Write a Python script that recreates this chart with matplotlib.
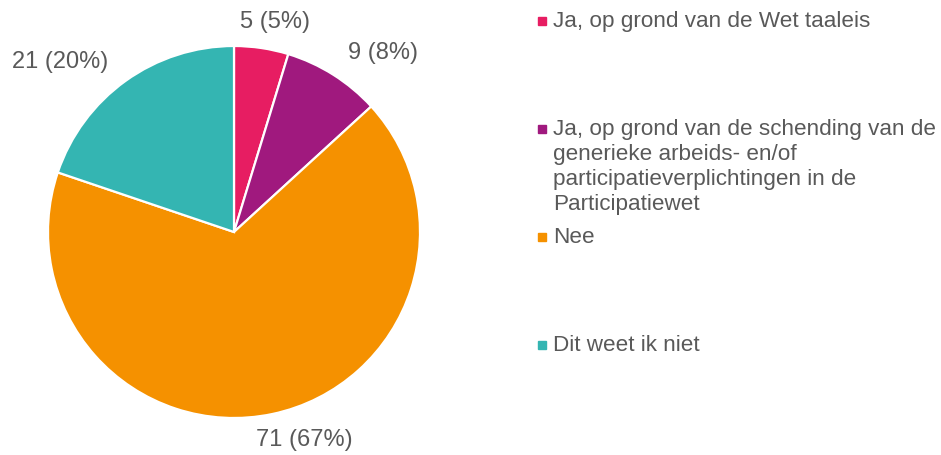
import matplotlib.pyplot as plt
from matplotlib.patches import Rectangle

plt.rcParams["font.family"] = ["Liberation Sans", "DejaVu Sans"]

categories = [
    "Ja, op grond van de Wet taaleis",
    "Ja, op grond van de schending van de\ngenerieke arbeids- en/of\nparticipatieverplichtingen in de\nParticipatiewet",
    "Nee",
    "Dit weet ik niet",
]
counts = [5, 9, 71, 21]
colors = ["#E71D62", "#A0197E", "#F59100", "#34B5B2"]
# label positions in pie units (radius = 1)
label_pos = [(0.22, 1.13), (0.80, 0.96), (0.38, -1.12), (-0.935, 0.915)]

W, H = 941, 455
fig = plt.figure(figsize=(W / 100, H / 100), dpi=100)
cx, cy, r = 234, 232, 186
ax = fig.add_axes([(cx - r) / W, (H - cy - r) / H, 2 * r / W, 2 * r / H])
ax.pie(counts, colors=colors, startangle=90, counterclock=False, radius=1,
       wedgeprops=dict(edgecolor="white", linewidth=1.6))
ax.set_xlim(-1, 1)
ax.set_ylim(-1, 1)
ax.set_aspect("equal")
ax.axis("off")

total = sum(counts)
for n, (x, y) in zip(counts, label_pos):
    ax.text(x, y, f"{n} ({round(n / total * 100)}%)", ha="center", va="center",
            fontsize=17, color="#595959", clip_on=False)

# legend, Excel-style equal slots
for i, (lab, col) in enumerate(zip(categories, colors)):
    yc = 21 + i * 108
    fig.add_artist(Rectangle(((538) / W, (H - yc - 4) / H), 8 / W, 8 / H,
                             transform=fig.transFigure, color=col))
    fig.text(553 / W, (H - yc + 10) / H, lab, ha="left", va="top",
             fontsize=16.2, color="#595959", linespacing=1.25)

fig.savefig("out.png", dpi=100)
